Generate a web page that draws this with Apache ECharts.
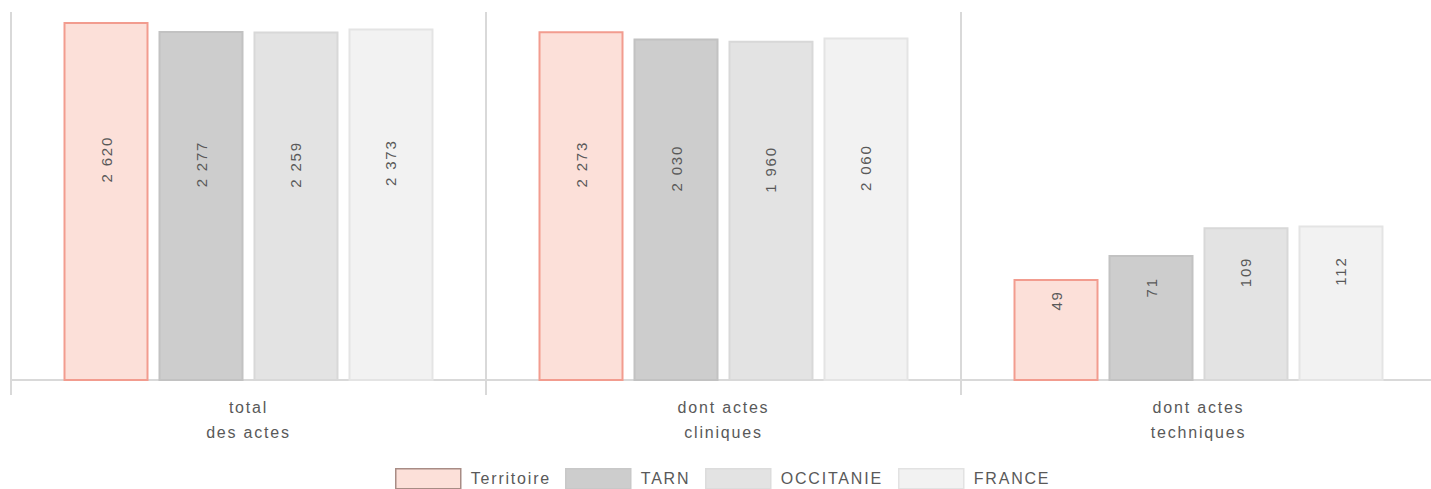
<!DOCTYPE html>
<html>
<head>
<meta charset="utf-8">
<script src="https://cdn.jsdelivr.net/npm/echarts@6/dist/echarts.min.js"></script>
<style>
html,body{margin:0;padding:0;background:#fff;}
#c{width:1431px;height:489px;}
#c svg text{letter-spacing:1.8px;}
</style>
</head>
<body>
<div id="c"></div>
<script>
const categories = ['total\ndes actes', 'dont actes\ncliniques', 'dont actes\ntechniques'];
const seriesNames = ['Territoire', 'TARN', 'OCCITANIE', 'FRANCE'];
const territoire = [2620, 2273, 49];
const tarn = [2277, 2030, 71];
const occitanie = [2259, 1960, 109];
const france = [2373, 2060, 112];

const values = [territoire, tarn, occitanie, france];
const fills = ['#FCE0D9', '#CDCDCD', '#E3E3E3', '#F2F2F2'];
const borders = ['#F29C8F', '#C2C2C2', '#D8D8D8', '#E4E4E4'];
const legendBorders = ['#A88C85', '#C8C8C8', '#DCDCDC', '#E2E2E2'];
const legendLefts = [395, 565, 705, 898];
const FONT = "'Liberation Sans', Arial, sans-serif";
const TXT = '#595959';
const Y_MIN = 10.25, Y_MAX = 3060;

function fmt(v) { return String(v).replace(/\B(?=(\d{3})+(?!\d))/g, ' '); }

const chart = echarts.init(document.getElementById('c'), null, {renderer: 'svg', width: 1431, height: 489});

function buildSeries(labelPos) {
  return seriesNames.map((n, si) => ({
    name: n,
    type: 'bar',
    barWidth: 85,
    barGap: '11.76%',
    clip: true,
    itemStyle: {color: fills[si], borderColor: borders[si], borderWidth: 2},
    label: {
      show: true,
      rotate: 90,
      position: 'inside',
      align: 'center',
      verticalAlign: 'middle',
      color: TXT,
      fontFamily: FONT,
      fontSize: 15,
      formatter: p => fmt(p.value)
    },
    emphasis: {disabled: true},
    data: values[si].map((v, i) => {
      const d = {value: v};
      if (labelPos) d.label = {position: ['50%', labelPos[si][i]]};
      return d;
    })
  }));
}

const option = {
  animation: false,
  grid: {left: 11, top: 12, width: 1425, height: 368, containLabel: false, outerBoundsMode: 'none'},
  xAxis: {
    type: 'category',
    data: categories,
    axisLine: {lineStyle: {color: '#D9D9D9', width: 2}},
    axisTick: {show: true, length: 15, lineStyle: {color: '#D9D9D9', width: 2}},
    splitLine: {show: true, lineStyle: {color: '#D9D9D9', width: 2}},
    axisLabel: {color: TXT, fontFamily: FONT, fontSize: 16, lineHeight: 25, margin: 15}
  },
  yAxis: {
    type: 'log',
    logBase: 10,
    min: Y_MIN,
    max: Y_MAX,
    show: false,
    splitLine: {show: false}
  },
  legend: seriesNames.map((n, i) => ({
    data: [{name: n, icon: 'rect', itemStyle: {color: fills[i], borderColor: legendBorders[i], borderWidth: 1.5}}],
    left: legendLefts[i],
    top: 468,
    padding: 0,
    itemWidth: 65,
    itemHeight: 20,
    itemGap: 10,
    selectedMode: false,
    textStyle: {color: TXT, fontFamily: FONT, fontSize: 16, padding: [0, 0, 0, 5]}
  })),
  series: buildSeries(null)
};
chart.setOption(option);

// place the labels the way the reference does (a bit above the middle of each bar)
const base = chart.convertToPixel({yAxisIndex: 0}, Y_MIN);
const labelPos = values.map(arr => arr.map(v => {
  const top = chart.convertToPixel({yAxisIndex: 0}, v);
  const h = base - top;
  return Math.max(12, 0.45 * h - 24);
}));
chart.setOption({series: buildSeries(labelPos)});
</script>
</body>
</html>
